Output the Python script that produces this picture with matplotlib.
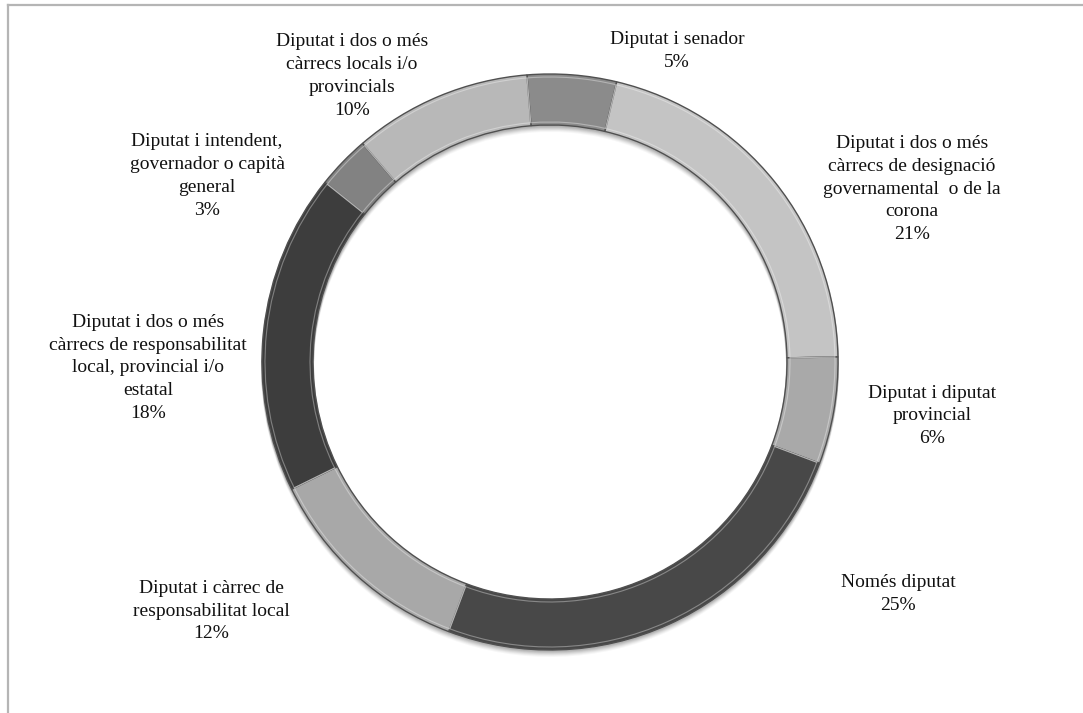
import matplotlib.pyplot as plt
from matplotlib.lines import Line2D

# categories in clockwise order, starting just left of 12 o'clock
categories = [
    "Diputat i senador",
    "Diputat i dos o més\ncàrrecs de designació\ngovernamental  o de la\ncorona",
    "Diputat i diputat\nprovincial",
    "Només diputat",
    "Diputat i càrrec de\nresponsabilitat local",
    "Diputat i dos o més\ncàrrecs de responsabilitat\nlocal, provincial i/o\nestatal",
    "Diputat i intendent,\ngovernador o capità\ngeneral",
    "Diputat i dos o més\ncàrrecs locals i/o\nprovincials",
]
percentages = [5, 21, 6, 25, 12, 18, 3, 10]
greys = ["#8b8b8b", "#c4c4c4", "#a9a9a9", "#484848",
         "#a8a8a8", "#3d3d3d", "#828282", "#b8b8b8"]

# where each label block is centred (pixels from top-left)
label_pos = [(677, 51), (912, 189), (932, 416), (898, 594),
             (211, 611), (148, 368), (207, 176), (352, 76)]

W, H = 1083, 713
fig = plt.figure(figsize=(W / 100, H / 100), dpi=100)
ax = fig.add_axes([0, 0, 1, 1])

cx, cy = 550, H - 362
r_out, ring = 288, 51
start = 94.6

# soft shadow under the ring
for k, a in zip(range(6, 0, -1), [0.03, 0.04, 0.05, 0.06, 0.07, 0.08]):
    ax.pie(percentages, radius=r_out + 1, center=(cx, cy - k),
           startangle=start, counterclock=False, colors=["#000000"] * 8,
           wedgeprops=dict(width=ring + 2, linewidth=0, alpha=a), frame=True)

# the ring itself
ax.pie(percentages, radius=r_out, center=(cx, cy),
       startangle=start, counterclock=False, colors=greys,
       wedgeprops=dict(width=ring, edgecolor="#505050", linewidth=1.0),
       frame=True)

# light inner bevel stroke
ax.pie(percentages, radius=r_out - 3, center=(cx, cy),
       startangle=start, counterclock=False, colors=["none"] * 8,
       wedgeprops=dict(width=ring - 6, edgecolor="#ffffff", linewidth=0.8, alpha=0.35),
       frame=True)

ax.set_xlim(0, W)
ax.set_ylim(0, H)
ax.set_aspect("equal")
ax.axis("off")

for name, pct, (x, y) in zip(categories, percentages, label_pos):
    ax.text(x, H - y, f"{name}\n{pct}%", ha="center", va="center",
            fontsize=14, family="Liberation Serif", color="#111111",
            linespacing=1.45)

# chart area frame (only top and left edges visible)
fig.add_artist(Line2D([8 / W, 1], [1 - 5 / H, 1 - 5 / H],
                      transform=fig.transFigure, color="#b5b5b5", lw=1.6))
fig.add_artist(Line2D([8 / W, 8 / W], [0, 1 - 5 / H],
                      transform=fig.transFigure, color="#b5b5b5", lw=1.6))

fig.savefig("out.png", dpi=100, facecolor="white")
